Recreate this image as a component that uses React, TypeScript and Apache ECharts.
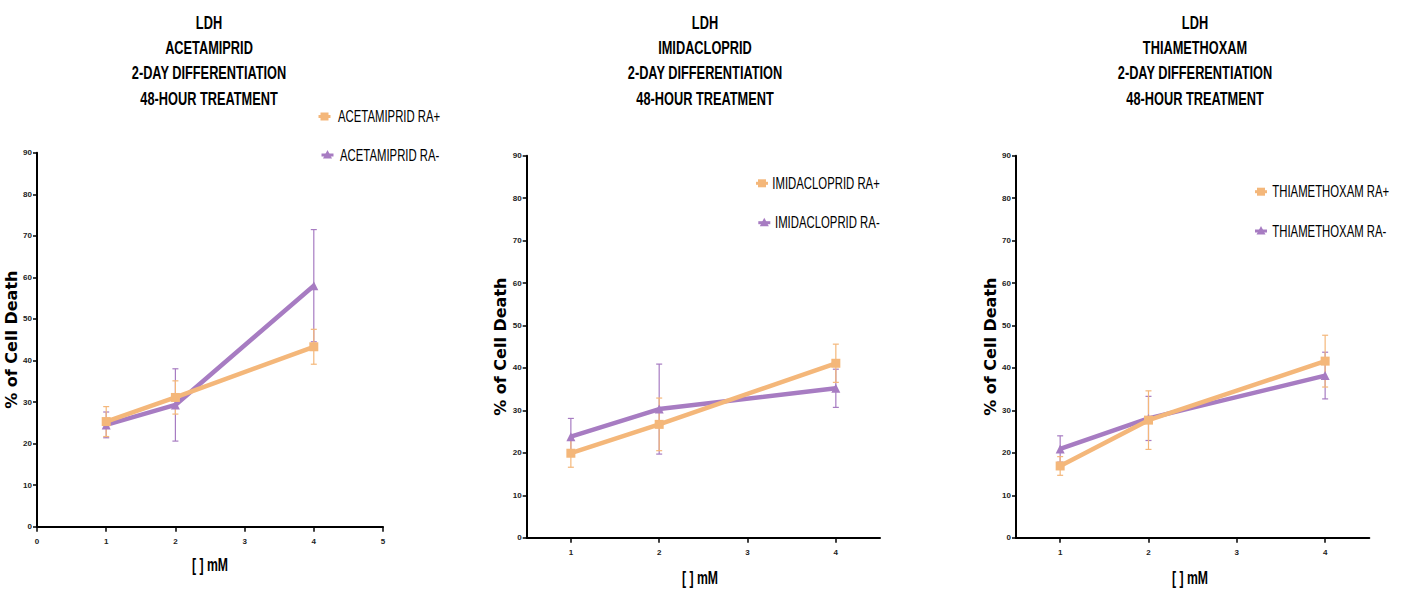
import React, { useEffect, useRef } from "react";
import * as echarts from "echarts";

const titleLines = [
  ["LDH", "ACETAMIPRID", "2-DAY DIFFERENTIATION", "48-HOUR TREATMENT"],
  ["LDH", "IMIDACLOPRID", "2-DAY DIFFERENTIATION", "48-HOUR TREATMENT"],
  ["LDH", "THIAMETHOXAM", "2-DAY DIFFERENTIATION", "48-HOUR TREATMENT"],
];
const compounds = ["ACETAMIPRID", "IMIDACLOPRID", "THIAMETHOXAM"];
const doses = [1, 2, 4];

// mean and SD, RA+ (orange) and RA- (purple)
const acetRAplus = [25.3, 31.1, 43.3];
const acetRAplusErr = [3.6, 4.0, 4.2];
const acetRAminus = [24.5, 29.3, 58.0];
const acetRAminusErr = [3.1, 8.7, 13.5];

const imidRAplus = [19.9, 26.7, 41.1];
const imidRAplusErr = [3.3, 6.2, 4.5];
const imidRAminus = [23.8, 30.3, 35.2];
const imidRAminusErr = [4.3, 10.6, 4.5];

const thiaRAplus = [16.9, 27.7, 41.6];
const thiaRAplusErr = [2.2, 6.9, 6.1];
const thiaRAminus = [20.9, 28.1, 38.2];
const thiaRAminusErr = [3.1, 5.2, 5.5];

const yTicks = [0, 10, 20, 30, 40, 50, 60, 70, 80, 90];
const xTicksPanel1 = [0, 1, 2, 3, 4, 5];
const xTicksOther = [1, 2, 3, 4];
const xAxisName = "[ ] mM";
const yAxisName = "% of Cell Death";

const ORANGE = "#F4B77A";
const PURPLE = "#A77CC2";
const SANS = "'Liberation Sans', Arial, sans-serif";

const panels = [
  { plus: acetRAplus, plusErr: acetRAplusErr, minus: acetRAminus, minusErr: acetRAminusErr },
  { plus: imidRAplus, plusErr: imidRAplusErr, minus: imidRAminus, minusErr: imidRAminusErr },
  { plus: thiaRAplus, plusErr: thiaRAplusErr, minus: thiaRAminus, minusErr: thiaRAminusErr },
];

const grids = [
  { left: 37, top: 152.7, width: 346, height: 374 },
  { left: 526.7, top: 155.7, width: 353.3, height: 382 },
  { left: 1016, top: 155.7, width: 353.3, height: 382 },
];
const titleCenters = [209, 705, 1195];
const titleLineY = [23, 48, 73, 98.5];
const xNamePos = [
  { x: 210, y: 565 },
  { x: 700, y: 578 },
  { x: 1190, y: 578 },
];
// legend item: icon center and text start
const legendItems = [
  [
    { ix: 324.5, iy: 116.5, tx: 338 },
    { ix: 327.5, iy: 155, tx: 340 },
  ],
  [
    { ix: 762, iy: 183.3, tx: 772.3 },
    { ix: 764.3, iy: 222.7, tx: 775 },
  ],
  [
    { ix: 1261, iy: 191.7, tx: 1272.3 },
    { ix: 1261, iy: 231, tx: 1272.3 },
  ],
];

function errorSeries(name: string, xi: number, vals: number[], errs: number[], color: string) {
  return {
    type: "custom",
    name: name + "_err",
    xAxisIndex: xi,
    yAxisIndex: xi,
    z: 1,
    silent: true,
    encode: { x: 0, y: [1, 2] },
    data: doses.map((d, i) => [d, vals[i] - errs[i], vals[i] + errs[i]]),
    renderItem: (params: any, api: any) => {
      const x = api.value(0);
      const lo = api.coord([x, api.value(1)]);
      const hi = api.coord([x, api.value(2)]);
      const cw = 3;
      const style = { stroke: color, lineWidth: 1.2 };
      return {
        type: "group",
        children: [
          { type: "line", shape: { x1: lo[0], y1: lo[1], x2: hi[0], y2: hi[1] }, style },
          { type: "line", shape: { x1: lo[0] - cw, y1: lo[1], x2: lo[0] + cw, y2: lo[1] }, style },
          { type: "line", shape: { x1: hi[0] - cw, y1: hi[1], x2: hi[0] + cw, y2: hi[1] }, style },
        ],
      };
    },
  };
}

function narrowText(text: string, x: number, y: number, size: number, weight: string, scaleX: number, align = "center") {
  return {
    type: "text",
    x,
    y,
    scaleX,
    z: 10,
    style: {
      text,
      fontFamily: SANS,
      fontSize: size,
      fontWeight: weight,
      fill: "#000",
      align,
      verticalAlign: "middle",
    },
  };
}

export default function App() {
  const ref = useRef<HTMLDivElement>(null);
  useEffect(() => {
    if (!ref.current) return;
    const chart = echarts.init(ref.current, null, { renderer: "svg" });
    const series: any[] = [];
    const graphics: any[] = [];
    panels.forEach((p, i) => {
      const nPlus = compounds[i] + " RA+";
      const nMinus = compounds[i] + " RA-";
      series.push(errorSeries(nMinus, i, p.minus, p.minusErr, PURPLE));
      series.push(errorSeries(nPlus, i, p.plus, p.plusErr, ORANGE));
      series.push({
        type: "line",
        name: nMinus,
        xAxisIndex: i,
        yAxisIndex: i,
        z: 2,
        data: doses.map((d, k) => [d, p.minus[k]]),
        symbol: "triangle",
        symbolSize: 9,
        lineStyle: { color: PURPLE, width: 4.5 },
        itemStyle: { color: PURPLE },
      });
      series.push({
        type: "line",
        name: nPlus,
        xAxisIndex: i,
        yAxisIndex: i,
        z: 3,
        data: doses.map((d, k) => [d, p.plus[k]]),
        symbol: "rect",
        symbolSize: 9,
        lineStyle: { color: ORANGE, width: 4.5 },
        itemStyle: { color: ORANGE },
      });

      // titles
      titleLines[i].forEach((t, k) => {
        graphics.push(narrowText(t, titleCenters[i], titleLineY[k], 18, "bold", 0.71));
      });
      // x-axis name
      graphics.push(narrowText(xAxisName, xNamePos[i].x, xNamePos[i].y, 18, "bold", 0.68));

      // legend
      const li = legendItems[i];
      graphics.push({
        type: "line",
        z: 10,
        shape: { x1: li[0].ix - 6, y1: li[0].iy, x2: li[0].ix + 6, y2: li[0].iy },
        style: { stroke: ORANGE, lineWidth: 3 },
      });
      graphics.push({
        type: "rect",
        z: 10,
        shape: { x: li[0].ix - 4, y: li[0].iy - 4, width: 8, height: 8 },
        style: { fill: ORANGE },
      });
      graphics.push(narrowText(nPlus, li[0].tx, li[0].iy, 16, "normal", 0.71, "left"));
      graphics.push({
        type: "line",
        z: 10,
        shape: { x1: li[1].ix - 6, y1: li[1].iy, x2: li[1].ix + 6, y2: li[1].iy },
        style: { stroke: PURPLE, lineWidth: 3 },
      });
      graphics.push({
        type: "polygon",
        z: 10,
        shape: {
          points: [
            [li[1].ix, li[1].iy - 5],
            [li[1].ix - 4.5, li[1].iy + 3.5],
            [li[1].ix + 4.5, li[1].iy + 3.5],
          ],
        },
        style: { fill: PURPLE },
      });
      graphics.push(narrowText(nMinus, li[1].tx, li[1].iy, 16, "normal", 0.71, "left"));
    });

    const axisCommonLabel = { fontFamily: SANS, fontSize: 8, fontWeight: "bold", color: "#222" };

    const option: any = {
      animation: false,
      backgroundColor: "#fff",
      grid: grids.map((g) => ({ ...g, containLabel: false })),
      xAxis: grids.map((_, i) => ({
        type: "value",
        gridIndex: i,
        min: i === 0 ? 0 : 0.5,
        max: i === 0 ? 5 : 4.5,
        interval: i === 0 ? 1 : undefined,
        splitLine: { show: false },
        axisLine: { show: true, onZero: false, lineStyle: { color: "#000", width: 2 } },
        axisTick: {
          show: true,
          length: 5,
          lineStyle: { color: "#000", width: 1.5 },
          customValues: i === 0 ? xTicksPanel1 : xTicksOther,
        },
        axisLabel: {
          ...axisCommonLabel,
          margin: 11,
          customValues: i === 0 ? xTicksPanel1 : xTicksOther,
          formatter: (v: number) => String(v),
        },
      })),
      yAxis: grids.map((_, i) => ({
        type: "value",
        gridIndex: i,
        min: 0,
        max: 90,
        interval: 10,
        name: yAxisName,
        nameLocation: "middle",
        nameGap: 15,
        nameTextStyle: { fontFamily: "'DejaVu Sans', sans-serif", fontSize: 16, fontWeight: "bold", color: "#000" },
        splitLine: { show: false },
        axisLine: { show: true, onZero: false, lineStyle: { color: "#000", width: 2 } },
        axisTick: { show: true, length: 4, lineStyle: { color: "#000", width: 1.5 }, customValues: yTicks },
        axisLabel: { ...axisCommonLabel, margin: 5, customValues: yTicks },
      })),
      graphic: graphics,
      series,
    };
    chart.setOption(option);
    return () => chart.dispose();
  }, []);
  return (
    <div
      ref={ref}
      style={{ position: "absolute", left: 0, top: 0, width: 1408, height: 590, background: "#fff" }}
    />
  );
}
